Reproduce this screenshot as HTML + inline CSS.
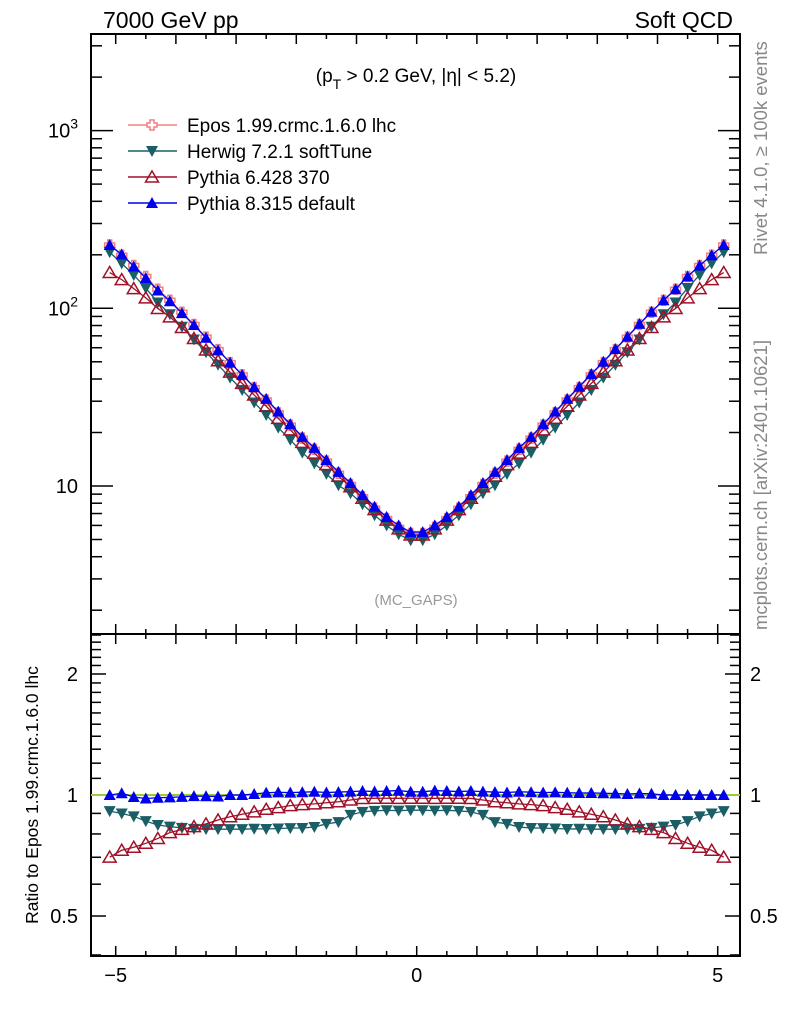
<!DOCTYPE html>
<html><head><meta charset="utf-8"><style>
body{margin:0;background:#fff;}
svg{display:block;font-family:"Liberation Sans",Arial,sans-serif;}
</style></head><body>
<svg id="chart" width="786" height="1024" viewBox="0 0 786 1024" xmlns="http://www.w3.org/2000/svg">
<rect width="786" height="1024" fill="#fff"/>
<text x="103" y="28" font-size="23">7000 GeV pp</text>
<text x="733" y="28" font-size="23" text-anchor="end">Soft QCD</text>
<text x="416" y="82" font-size="19" text-anchor="middle">(p<tspan font-size="14" dy="7">T</tspan><tspan dy="-7"> &gt; 0.2 GeV, |η| &lt; 5.2)</tspan></text>
<text x="416" y="605" font-size="15" fill="#999" text-anchor="middle">(MC_GAPS)</text>
<text transform="translate(767,255) rotate(-90)" font-size="18.5" fill="#888">Rivet 4.1.0, ≥ 100k events</text>
<text transform="translate(767,630) rotate(-90)" font-size="18.5" fill="#888">mcplots.cern.ch [arXiv:2401.10621]</text>
<text transform="translate(38,795) rotate(-90)" font-size="17.5" text-anchor="middle">Ratio to Epos 1.99.crmc.1.6.0 lhc</text>
<g id="axes"></g>
<g id="marks"></g>
<g id="legend"></g>
</svg>
<script>
const etaBins = [-5.1,-4.9,-4.7,-4.5,-4.3,-4.1,-3.9,-3.7,-3.5,-3.3,-3.1,-2.9,-2.7,-2.5,-2.3,-2.1,-1.9,-1.7,-1.5,-1.3,-1.1,-0.9,-0.7,-0.5,-0.3,-0.1,0.1,0.3,0.5,0.7,0.9,1.1,1.3,1.5,1.7,1.9,2.1,2.3,2.5,2.7,2.9,3.1,3.3,3.5,3.7,3.9,4.1,4.3,4.5,4.7,4.9,5.1];
const eposVals = [227,199,174,151,128,111,95,81,68.8,58.5,49.5,42.2,35.8,30.5,25.8,22.0,18.6,16.1,13.8,11.8,10.2,8.7,7.5,6.55,5.85,5.4,5.4,5.85,6.55,7.5,8.7,10.2,11.8,13.8,16.1,18.6,22.0,25.8,30.5,35.8,42.2,49.5,58.5,68.8,81,95,111,128,151,174,199,227];
const herwigVals = [207,179,154,130,107.8,92.6,78.7,66.7,56.6,48.1,40.7,34.7,29.5,25.1,21.3,18.2,15.4,13.4,11.7,10.1,9.1,7.9,6.85,6.0,5.35,4.95,4.95,5.35,6.0,6.85,7.9,9.1,10.1,11.7,13.4,15.4,18.2,21.3,25.1,29.5,34.7,40.7,48.1,56.6,66.7,78.7,92.6,107.8,130,154,179,207];
const py6Vals = [159,145,129,114.5,99.8,89.5,78,67.6,58.3,50.7,43.7,37.8,32.5,28.1,24.0,20.7,17.6,15.3,13.2,11.35,9.91,8.53,7.36,6.43,5.74,5.30,5.30,5.74,6.43,7.36,8.53,9.91,11.35,13.2,15.3,17.6,20.7,24.0,28.1,32.5,37.8,43.7,50.7,58.3,67.6,78,89.5,99.8,114.5,129,145,159];
const py8Vals = [227,201,172,148,126,109.5,94,80.5,68.3,58,49.5,42.2,36,30.9,26.2,22.3,18.9,16.4,14.0,12.0,10.4,8.9,7.65,6.7,6.0,5.5,5.5,6.0,6.7,7.65,8.9,10.4,12.0,14.0,16.4,18.9,22.3,26.2,30.9,36.2,42.7,50,59,69.2,81.7,95.7,111,128,151,174,199,227];
const xTickLabels = ["−5","0","5"];
const yMainTickLabels = ["10","10²","10³"];
const yRatioTickLabels = ["0.5","1","2"];

const NS="http://www.w3.org/2000/svg";
const L=91,R=740,T=34,MB=634,RB=956;
const X=v=>416.7+v*60.2;
const YM=v=>486-(Math.log10(v)-1)*177.7;
const YR=v=>795-Math.log10(v)*402;
function mk(tag,attrs,parent){const e=document.createElementNS(NS,tag);for(const k in attrs)e.setAttribute(k,attrs[k]);parent.appendChild(e);return e;}
const ax=document.getElementById('axes');
const marks=document.getElementById('marks');
let f1=mk('rect',{x:L,y:T,width:R-L,height:MB-T,fill:'none',stroke:'#000','stroke-width':2},ax);


let f2=mk('rect',{x:L,y:MB,width:R-L,height:RB-MB,fill:'none',stroke:'#000','stroke-width':2},ax);


for(let i=-10;i<=10;i++){const v=i/2;const x=X(v);const len=(i%2===0)?10:5;
 for(const [y0,d] of [[T,1],[MB,-1],[MB,1],[RB,-1]]){mk('line',{x1:x,x2:x,y1:y0,y2:y0+d*len,stroke:'#000','stroke-width':1.5},ax);}
}
[-5,0,5].forEach((v,i)=>{const t=mk('text',{x:X(v),y:982,'font-size':20,'text-anchor':'middle'},ax);t.textContent=xTickLabels[i];
 
 });
for(let d=0;d<=3;d++){for(let m=1;m<=9;m++){const v=m*Math.pow(10,d);const y=YM(v);if(y<T||y>MB)continue;const len=m===1?22:11;
 mk('line',{x1:L,x2:L+len,y1:y,y2:y,stroke:'#000','stroke-width':1.5},ax);
 mk('line',{x1:R,x2:R-len,y1:y,y2:y,stroke:'#000','stroke-width':1.5},ax);}}
[10,100,1000].forEach((v,i)=>{const t=mk('text',{x:78,y:YM(v)+7,'font-size':20,'text-anchor':'end'},ax);
 if(i===0)t.textContent=yMainTickLabels[i];else{t.textContent='10';const s=mk('tspan',{dy:-9,'font-size':14},t);s.textContent=String(i+1);}
 
 });
const rt=[0.4,0.5,0.6,0.7,0.8,0.9,1,1.1,1.2,1.3,1.4,1.5,1.6,1.7,1.8,1.9,2,2.1,2.2,2.3,2.4,2.5];
rt.forEach(v=>{const y=YR(v);if(y<MB||y>RB)return;const len=(v===0.5||v===1||v===2)?15:10;
 mk('line',{x1:L,x2:L+len,y1:y,y2:y,stroke:'#000','stroke-width':1.5},ax);
 mk('line',{x1:R,x2:R-len,y1:y,y2:y,stroke:'#000','stroke-width':1.5},ax);});
[0.5,1,2].forEach((v,i)=>{for(const [x,a] of [[78,'end'],[750,'start']]){const t=mk('text',{x:x,y:YR(v)+7,'font-size':20,'text-anchor':a},ax);t.textContent=yRatioTickLabels[i];
 
 }});
let ref=mk('line',{x1:L,x2:R,y1:YR(1),y2:YR(1),stroke:'#9acd32','stroke-width':2},marks);



function marker(g,type,x,y,color){
 if(type==='cross'){mk('path',{d:`M${x-2},${y-5}h4v3h3v4h-3v3h-4v-3h-3v-4h3z`,fill:'#fff',stroke:color,'stroke-width':1.5},g);}
 else if(type==='down'){mk('path',{d:`M${x-6},${y-5}L${x+6},${y-5}L${x},${y+6}Z`,fill:color},g);}
 else if(type==='upOpen'){mk('path',{d:`M${x},${y-6}L${x+6.5},${y+5}L${x-6.5},${y+5}Z`,fill:'none',stroke:color,'stroke-width':1.5},g);}
 else {mk('path',{d:`M${x},${y-6}L${x+6},${y+5}L${x-6},${y+5}Z`,fill:color},g);}
}
const series=[
 {name:'epos',label:'Epos 1.99.crmc.1.6.0 lhc',vals:eposVals,color:'#f08080',type:'cross'},
 {name:'herwig',label:'Herwig 7.2.1 softTune',vals:herwigVals,color:'#1a5e66',type:'down'},
 {name:'pythia6',label:'Pythia 6.428 370',vals:py6Vals,color:'#a01028',type:'upOpen'},
 {name:'pythia8',label:'Pythia 8.315 default',vals:py8Vals,color:'#0000ee',type:'up'}];
series.forEach(s=>{
 const g=mk('g',{},marks);
 
 
 const pts=etaBins.map((e,i)=>[X(e),YM(s.vals[i])]);
 mk('polyline',{points:pts.map(p=>p.join(',')).join(' '),fill:'none',stroke:s.color,'stroke-width':1.3},g);
 pts.forEach(p=>marker(g,s.type,p[0],p[1],s.color));
 if(s.name!=='epos'){
  const gr=mk('g',{},marks);
  
  
  const rp=etaBins.map((e,i)=>[X(e),YR(s.vals[i]/eposVals[i])]);
  mk('polyline',{points:rp.map(p=>p.join(',')).join(' '),fill:'none',stroke:s.color,'stroke-width':1.3},gr);
  rp.forEach(p=>marker(gr,s.type,p[0],p[1],s.color));
 }
});
const lg=document.getElementById('legend');
series.forEach((s,i)=>{const y=125+i*26;
 const g=mk('g',{},lg);
 
 
 mk('line',{x1:128,x2:177,y1:y,y2:y,stroke:s.color,'stroke-width':1.5},g);
 marker(g,s.type,152,y,s.color);
 const t=mk('text',{x:187,y:y+7,'font-size':19},g);t.textContent=s.label;});
</script>
</body></html>
